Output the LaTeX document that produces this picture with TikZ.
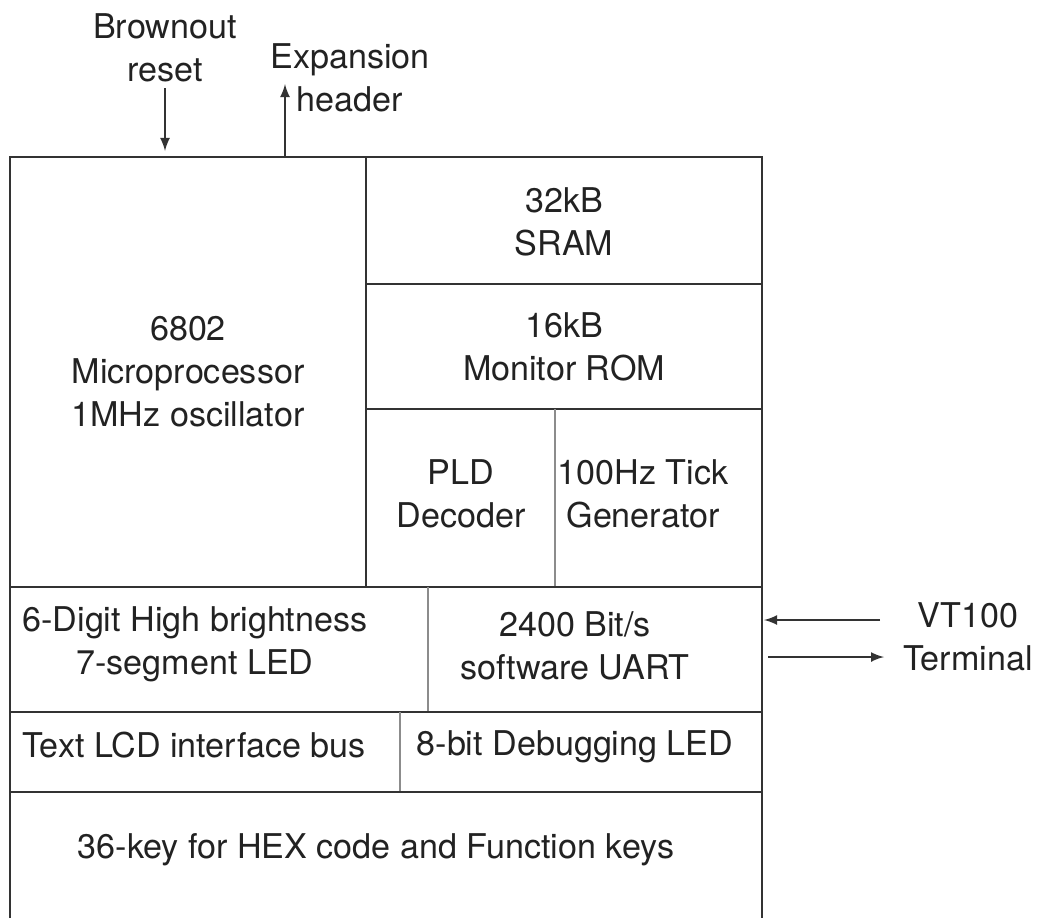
\documentclass[tikz,border=0pt]{standalone}
\usepackage{fontspec}
\setmainfont{TeX Gyre Heros}
\usepackage{tikz}
\usetikzlibrary{arrows.meta}

\definecolor{inkgray}{HTML}{222222}
\definecolor{rulegray}{HTML}{333333}
\definecolor{thingray}{HTML}{8C8C8C}

\tikzset{
    lbl/.style={align=center, inner sep=0pt, text=inkgray, font=\fontsize{9.7}{12.2}\selectfont},
    frame/.style={draw=rulegray, line width=0.6pt},
    split/.style={draw=thingray, line width=0.35pt},
    sig/.style={draw=rulegray, line width=0.3pt, -{latex}}
}

\begin{document}
\begin{tikzpicture}[x=0.01cm, y=-0.01cm]
    \useasboundingbox (0,0) rectangle (1040,918);

    % board outline and cells
    \draw[frame] (10,918) -- (10,157) -- (762,157) -- (762,918);
    \draw[frame] (366,157) -- (366,587);
    \draw[frame] (366,284) -- (762,284);
    \draw[frame] (366,409) -- (762,409);
    \draw[split] (555,409) -- (555,587);
    \draw[frame] (10,587) -- (762,587);
    \draw[split] (428,587) -- (428,712);
    \draw[frame] (10,712) -- (762,712);
    \draw[split] (400,712) -- (400,792);
    \draw[frame] (10,792) -- (762,792);

    % blocks
    \node[lbl] (cpu) at (188,372) {6802\\Microprocessor\\1MHz oscillator};
    \node[lbl] (sram) at (564,222) {32kB\\SRAM};
    \node[lbl] (rom) at (564,347) {16kB\\Monitor ROM};
    \node[lbl] (pld) at (461,494) {PLD\\Decoder};
    \node[lbl] (tick) at (643,494) {100Hz Tick\\Generator};
    \node[lbl] (led7) at (195,644) {6-Digit High brightness\\7-segment LED};
    \node[lbl] (uart) at (575,646) {2400 Bit/s\\software UART};
    \node[lbl] (lcd) at (194,745) {Text LCD interface bus};
    \node[lbl] (dbg) at (575,747) {8-bit Debugging LED};
    \node[lbl] (keys) at (376,850) {36-key for HEX code and Function keys};

    % outside signals
    \node[lbl] (bor) at (165,48) {Brownout\\reset};
    \node[lbl] (exp) at (350,78) {Expansion\\header};
    \node[lbl] (vt) at (968,637) {VT100\\Terminal};

    \coordinate (borA) at (165,88);
    \coordinate (borB) at (165,151);
    \coordinate (expA) at (285,157);
    \coordinate (expB) at (285,84);
    \coordinate (rxA) at (880,620);
    \coordinate (rxB) at (764,620);
    \coordinate (txA) at (768,657);
    \coordinate (txB) at (884,657);

    \draw[sig] (borA) to (borB); % reset in
    \draw[sig] (expA) to (expB); % header out
    \draw[sig] (rxA) to (rxB); % terminal -> uart
    \draw[sig] (txA) to (txB); % uart -> terminal

\end{tikzpicture}
\end{document}
